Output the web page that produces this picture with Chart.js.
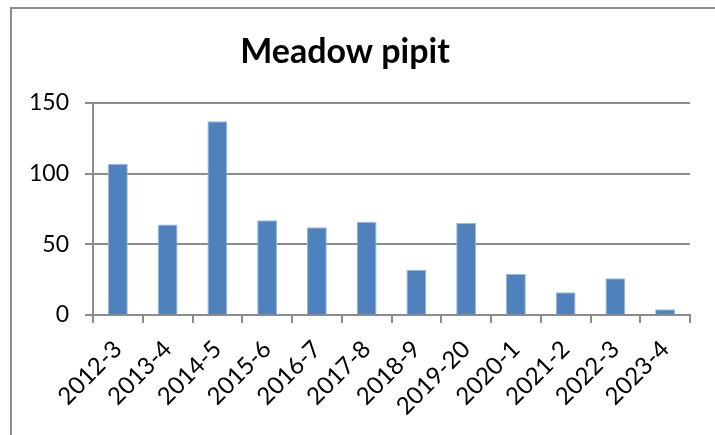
<!DOCTYPE html>
<html>
<head>
<meta charset="utf-8">
<script src="https://cdn.jsdelivr.net/npm/chart.js@4"></script>
<style>
  html, body { margin: 0; padding: 0; background: #fff; }
  #wrap { position: relative; width: 715px; height: 435px; overflow: hidden; }
  #frame { position: absolute; left: 10px; top: 7px; width: 800px; height: 500px; border: 2px solid #8c8c8c; box-sizing: border-box; }
  #chart { position: absolute; left: 0; top: 0; }
</style>
</head>
<body>
<div id="wrap">
  <div id="frame"></div>
  <canvas id="chart" width="715" height="435"></canvas>
</div>
<script>
  // winter seasons and counts
  const seasons = ['2012-3', '2013-4', '2014-5', '2015-6', '2016-7', '2017-8',
    '2018-9', '2019-20', '2020-1', '2021-2', '2022-3', '2023-4'];
  const counts = [107, 64, 137, 67, 62, 66, 32, 65, 29, 16, 26, 4];
  const yTicks = [0, 50, 100, 150];

  const gridColor = '#8c8c8c';
  const font = 'Lato, "Open Sans", sans-serif';

  new Chart(document.getElementById('chart'), {
    type: 'bar',
    data: {
      labels: seasons,
      datasets: [{
        data: counts,
        backgroundColor: '#4f81bd',
        borderColor: '#9db8da',
        borderWidth: { top: 1, left: 1, right: 1, bottom: 0 },
        categoryPercentage: 1,
        barPercentage: 0.4,
      }],
    },
    options: {
      responsive: false,
      animation: false,
      layout: { padding: { left: 0, right: 25, top: 0, bottom: 0 } },
      plugins: {
        legend: { display: false },
        tooltip: { enabled: false },
        title: {
          display: true,
          text: 'Meadow pipit',
          color: '#000',
          font: { family: font, size: 34, weight: 'bold' },
          padding: { top: 32, bottom: 30 },
        },
      },
      scales: {
        x: {
          offset: true,
          grid: { offset: true, drawOnChartArea: false, tickLength: 8, color: gridColor, lineWidth: 2 },
          border: { display: true, color: gridColor, width: 2 },
          ticks: {
            color: '#000',
            font: { family: font, size: 24 },
            minRotation: 45,
            maxRotation: 45,
            padding: 12,
          },
          afterFit: (s) => { s.height = 120; },
        },
        y: {
          min: 0,
          max: 150,
          afterBuildTicks: (s) => { s.ticks = yTicks.map((v) => ({ value: v })); },
          grid: { color: gridColor, lineWidth: 2, tickLength: 8 },
          border: { display: true, color: gridColor, width: 2 },
          ticks: {
            color: '#000',
            font: { family: font, size: 23 },
            padding: 16,
          },
          afterFit: (s) => { s.width = 93; },
        },
      },
    },
  });
</script>
</body>
</html>
